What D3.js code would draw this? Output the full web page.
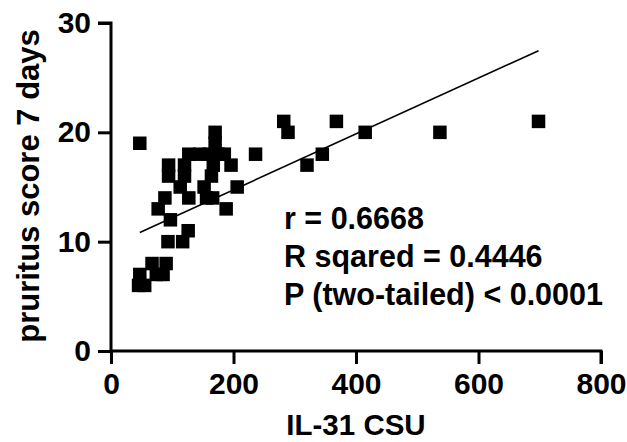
<!DOCTYPE html>
<html>
<head>
<meta charset="utf-8">
<script src="https://cdn.jsdelivr.net/npm/d3@7"></script>
<style>
  html, body { margin: 0; padding: 0; background: #fff; }
  svg { display: block; }
  text { font-family: "Liberation Sans", Arial, sans-serif; font-weight: bold; fill: #000; }
</style>
</head>
<body>
<svg id="chart" width="627" height="442"></svg>
<script>
// IL-31 level (x) vs pruritus score over 7 days (y), one square per patient
const il31 = [47, 170, 170, 127, 145, 160, 175, 185, 196, 94, 120, 94, 120, 167, 164,
              113, 152, 206, 88, 127, 156, 166, 77, 188, 97, 126, 93, 117, 67, 90,
              47, 74, 85, 45, 55, 236, 282, 289, 320, 345, 368, 415, 537, 698];
const pruritus = [19, 20, 19, 18, 18, 18, 18, 18, 17, 17, 17, 16, 16, 17, 16,
                  15, 15, 15, 14, 14, 14, 14, 13, 13, 12, 11, 10, 10, 8, 8,
                  7, 7, 7, 6, 6, 18, 21, 20, 17, 18, 21, 20, 20, 21];

// Linear fit drawn over the observed IL-31 range
const fitSlope = 0.02556;
const fitIntercept = 9.63;
const fitRange = [47, 698];

const xTicks = [0, 200, 400, 600, 800];
const yTicks = [0, 10, 20, 30];
const statLines = ["r = 0.6668", "R sqared = 0.4446", "P (two-tailed) < 0.0001"];

const svg = d3.select("#chart");
const x = d3.scaleLinear().domain([0, 800]).range([111, 601]);
const y = d3.scaleLinear().domain([0, 30]).range([351, 23]);

// axes
const xAxis = svg.append("g").attr("transform", `translate(0,${y(0)})`)
  .call(d3.axisBottom(x).tickValues(xTicks).tickSize(13).tickSizeOuter(0).tickPadding(9));
const yAxis = svg.append("g").attr("transform", `translate(${x(0)},0)`)
  .call(d3.axisLeft(y).tickValues(yTicks).tickSize(13).tickSizeOuter(0).tickPadding(7));
[xAxis, yAxis].forEach(g => {
  g.selectAll("path.domain").attr("stroke", "#000").attr("stroke-width", 3);
  g.selectAll(".tick line").attr("stroke", "#000").attr("stroke-width", 3);
  g.selectAll(".tick text").style("font-size", "30px").style("font-family", '"Liberation Sans", Arial, sans-serif')
    .style("font-weight", "bold").attr("fill", "#000");
});
xAxis.select("path.domain").attr("d", `M${x(0)},0H${x(800)}V13`);
yAxis.select("path.domain").attr("d", `M-13,${y(30)}H0V${y(0)}`);

// regression line
svg.append("line")
  .attr("x1", x(fitRange[0])).attr("y1", y(fitIntercept + fitSlope * fitRange[0]))
  .attr("x2", x(fitRange[1])).attr("y2", y(fitIntercept + fitSlope * fitRange[1]))
  .attr("stroke", "#000").attr("stroke-width", 1.6);

// points
const s = 13.5;
svg.append("g").selectAll("rect")
  .data(il31.map((v, i) => [v, pruritus[i]]))
  .join("rect")
  .attr("x", d => x(d[0]) - s / 2)
  .attr("y", d => y(d[1]) - s / 2)
  .attr("width", s).attr("height", s)
  .attr("fill", "#000");

// statistics
svg.append("g").selectAll("text")
  .data(statLines)
  .join("text")
  .attr("x", 284)
  .attr("y", (d, i) => 229 + i * 38)
  .style("font-size", "30.5px")
  .text(d => d);

// axis titles
svg.append("text")
  .attr("x", x(400)).attr("y", 435)
  .attr("text-anchor", "middle")
  .style("font-size", "29.5px")
  .text("IL-31 CSU");
svg.append("text")
  .attr("transform", `translate(39,${(y(0) + y(30)) / 2 - 1}) rotate(-90)`)
  .attr("text-anchor", "middle")
  .style("font-size", "31px")
  .text("pruritus score 7 days");
</script>
</body>
</html>
